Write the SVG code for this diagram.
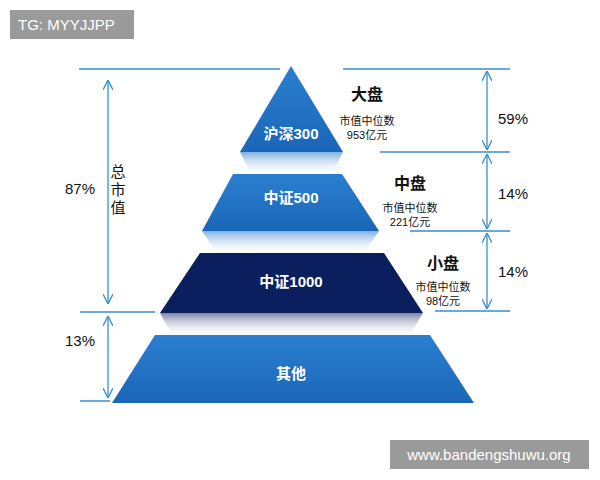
<svg xmlns="http://www.w3.org/2000/svg" width="600" height="480" viewBox="0 0 600 480">
<style>
.t{font-family:"Liberation Sans","Noto Sans CJK SC",sans-serif}
.w{fill:#fff;font-size:15px;font-weight:bold;text-anchor:middle}
.k{fill:#111;text-anchor:middle}
.ln{stroke:#3a8fd0;stroke-width:1.3;fill:none}
.tier{fill:#1f6fc0}
</style>
<defs>
<linearGradient id="rf" x1="0" y1="0" x2="0" y2="1"><stop offset="0" stop-color="#7fb0e0"/><stop offset="1" stop-color="#fff" stop-opacity="0.2"/></linearGradient>
<linearGradient id="rfd" x1="0" y1="0" x2="0" y2="1"><stop offset="0" stop-color="#7c84a8"/><stop offset="1" stop-color="#fff" stop-opacity="0.2"/></linearGradient>
<linearGradient id="g1" x1="0" y1="0" x2="0" y2="1"><stop offset="0" stop-color="#2b7fd0"/><stop offset="1" stop-color="#1a66b8"/></linearGradient>
<marker id="a" viewBox="0 0 10 10" refX="10" refY="5" markerWidth="8" markerHeight="8" orient="auto-start-reverse"><path d="M0,0L10,5L0,10" fill="none" stroke="#3a8fd0" stroke-width="1.3"/></marker>
</defs>
<rect width="600" height="480" fill="#fff"/>
<g id="tier1"><path d="M291,66L343,152H240Z" fill="url(#g1)"/><path d="M240,152H343L332,174H251Z" fill="url(#rf)"/><text class="t w" x="291" y="139">沪深300</text></g>
<g id="tier2"><path d="M233,174H342L379,231H202Z" fill="url(#g1)"/><path d="M202,231H379L364,253H217Z" fill="url(#rf)"/><text class="t w" x="291" y="203">中证500</text></g>
<g id="tier3"><path d="M200,253H384L423,313H160Z" fill="#0b1f5e"/><path d="M160,313H423L410,335H172Z" fill="url(#rfd)"/><text class="t w" x="291" y="287">中证1000</text></g>
<g id="tier4"><path d="M155,335H430L474,403H112Z" fill="url(#g1)"/><text class="t w" x="291" y="379">其他</text></g>
<g id="connectors">
<path class="ln" d="M79,69H280M343,69H510M380,152H510M410,231H510M435,311H510M80,312H155M80,401H110"/>
<path class="ln" d="M108,80V304" marker-start="url(#a)" marker-end="url(#a)"/>
<path class="ln" d="M108,316V398" marker-start="url(#a)" marker-end="url(#a)"/>
<path class="ln" d="M487,71V150" marker-start="url(#a)" marker-end="url(#a)"/>
<path class="ln" d="M487,154V229" marker-start="url(#a)" marker-end="url(#a)"/>
<path class="ln" d="M487,233V309" marker-start="url(#a)" marker-end="url(#a)"/>
</g>
<g id="labels" class="t">
<text class="k" x="513" y="124" font-size="15">59%</text>
<text class="k" x="513" y="199" font-size="15">14%</text>
<text class="k" x="513" y="277" font-size="15">14%</text>
<text class="k" x="80" y="194" font-size="15">87%</text>
<text class="k" x="80" y="346" font-size="15">13%</text>
<text class="k" x="118" y="177" font-size="15">总</text>
<text class="k" x="118" y="195" font-size="15">市</text>
<text class="k" x="118" y="213" font-size="15">值</text>
<text class="k" x="367" y="100" font-size="16" font-weight="bold">大盘</text>
<text class="k" x="367" y="125" font-size="11">市值中位数</text>
<text class="k" x="367" y="139" font-size="11">953亿元</text>
<text class="k" x="410" y="189" font-size="16" font-weight="bold">中盘</text>
<text class="k" x="410" y="212" font-size="11">市值中位数</text>
<text class="k" x="410" y="226" font-size="11">221亿元</text>
<text class="k" x="443" y="269" font-size="16" font-weight="bold">小盘</text>
<text class="k" x="443" y="291" font-size="11">市值中位数</text>
<text class="k" x="443" y="305" font-size="11">98亿元</text>
</g>
<g id="wm1"><rect x="10" y="10" width="124" height="29" fill="#9a9a9a"/><text class="t" x="18" y="30" fill="#fff" font-size="15">TG: MYYJJPP</text></g>
<g id="wm2"><rect x="390" y="440" width="199" height="29" fill="#9a9a9a"/><text class="t" x="489" y="460" fill="#fff" font-size="15" text-anchor="middle">www.bandengshuwu.org</text></g>
</svg>
